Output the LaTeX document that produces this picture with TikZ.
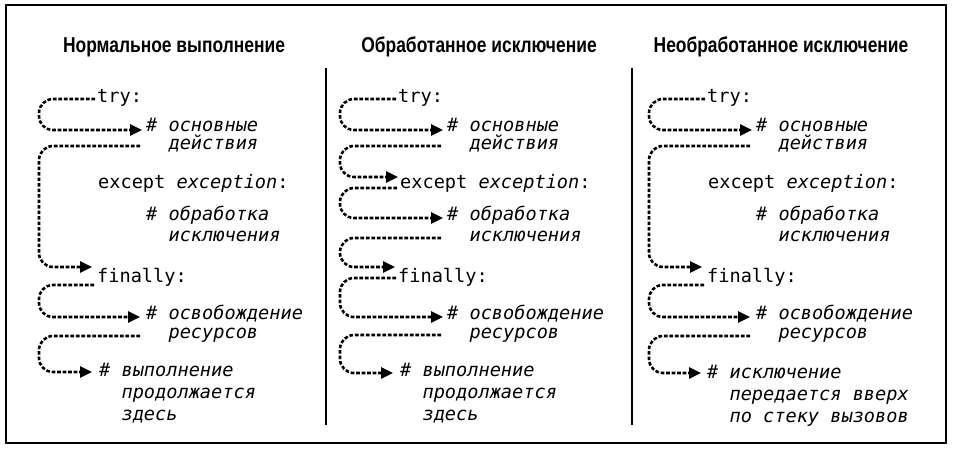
\documentclass[tikz,border=0pt]{standalone}
\usepackage{fontspec}
\usetikzlibrary{arrows.meta,calc}
\newfontfamily\codefont{DejaVu Sans Mono}
\newfontfamily\titlefam[FakeStretch=0.81]{Liberation Sans}
\newcommand\codesize{\codefont\fontsize{18.6}{20}\selectfont}
\newcommand\titlesize{\titlefam\bfseries\fontsize{21.5}{24}\selectfont}
\tikzset{
  code/.style={anchor=base west, inner sep=0pt, font=\codesize, text height=11pt, text depth=3pt},
  cmt/.style={code, font=\codesize\itshape},
  ttl/.style={anchor=base, inner sep=0pt, font=\titlesize},
  flow/.style={line width=2.6pt, dash pattern=on 3.6pt off 1.9pt, rounded corners=14pt,
    -{Triangle[length=12pt,width=11pt]}},
  frame/.style={line width=1.6pt},
  divider/.style={line width=2pt},
}
\begin{document}
\begin{tikzpicture}[x=1pt,y=-1pt]
\useasboundingbox (0,0) rectangle (956,454);
\draw[frame] (6,5) rectangle (946,443);
\coordinate (d1t) at (326,68); \coordinate (d1b) at (326,425);
\coordinate (d2t) at (632,68); \coordinate (d2b) at (632,425);
\draw[divider] (d1t) -- (d1b);
\draw[divider] (d2t) -- (d2b);
\node[ttl] (t1) at (174,53) {Нормальное выполнение};
\node[ttl] (t2) at (479,53) {Обработанное исключение};
\node[ttl] (t3) at (781,53) {Необработанное исключение};

% ---------- column 1 ----------
\begin{scope}
\coordinate (LA) at (39,0);
\node[code] (tryA) at (97,103) {try:};
\node[cmt] (osnA) at (146,132) {\# основные};
\node[cmt] (deiA) at (146,150) {\phantom{\#~}действия};
\node[code] (excA) at (98,189) {except \textit{exception}:};
\node[cmt] (obrA) at (146,221) {\# обработка};
\node[cmt] (iskA) at (146,242) {\phantom{\#~}исключения};
\node[code] (finA) at (97,283) {finally:};
\node[cmt] (osvA) at (146,320) {\# освобождение};
\node[cmt] (resA) at (146,338) {\phantom{\#~}ресурсов};
\node[cmt] (vypA) at (99,377) {\# выполнение};
\node[cmt] (proA) at (99,398) {\phantom{\#~}продолжается};
\node[cmt] (zdeA) at (99,420) {\phantom{\#~}здесь};
\coordinate (a1e) at ([xshift=-4pt,yshift=-2pt]osnA.west);
\draw[flow] ([xshift=-2pt]tryA.west) -| (LA |- a1e) -- (a1e);
\coordinate (a2e) at ([xshift=-5pt,yshift=12pt]finA.west);
\draw[flow] ([xshift=-6pt]deiA.west) -| (LA |- a2e) -- (a2e);
\coordinate (a3e) at ([xshift=-6pt,yshift=-1pt]osvA.west);
\draw[flow] ([xshift=-3pt,yshift=-6pt]finA.west) -| (LA |- a3e) -- (a3e);
\coordinate (a4e) at ([xshift=-7pt,yshift=1pt]vypA.west);
\draw[flow] ([xshift=-6pt,yshift=-2pt]resA.west) -| (LA |- a4e) -- (a4e);
\end{scope}

% ---------- column 2 ----------
\begin{scope}[xshift=301pt]
\coordinate (LB) at (39,0);
\node[code] (tryB) at (97,103) {try:};
\node[cmt] (osnB) at (146,132) {\# основные};
\node[cmt] (deiB) at (146,150) {\phantom{\#~}действия};
\node[code] (excB) at (99,189) {except \textit{exception}:};
\node[cmt] (obrB) at (146,221) {\# обработка};
\node[cmt] (iskB) at (146,242) {\phantom{\#~}исключения};
\node[code] (finB) at (97,283) {finally:};
\node[cmt] (osvB) at (146,320) {\# освобождение};
\node[cmt] (resB) at (146,338) {\phantom{\#~}ресурсов};
\node[cmt] (vypB) at (99,377) {\# выполнение};
\node[cmt] (proB) at (99,398) {\phantom{\#~}продолжается};
\node[cmt] (zdeB) at (99,420) {\phantom{\#~}здесь};
\coordinate (b1e) at ([xshift=-4pt,yshift=-2pt]osnB.west);
\draw[flow] ([xshift=-2pt]tryB.west) -| (LB |- b1e) -- (b1e);
\coordinate (b2e) at ([xshift=-2pt,yshift=8pt]excB.west);
\draw[flow] ([xshift=-6pt]deiB.west) -| (LB |- b2e) -- (b2e);
\coordinate (b3e) at ([xshift=-4pt,yshift=-1pt]obrB.west);
\draw[flow] ([xshift=-3pt,yshift=-3pt]excB.west) -| (LB |- b3e) -- (b3e);
\coordinate (b4e) at ([xshift=-3pt,yshift=12pt]finB.west);
\draw[flow] ([xshift=-6pt]iskB.west) -| (LB |- b4e) -- (b4e);
\coordinate (b5e) at ([xshift=-4pt,yshift=-1pt]osvB.west);
\draw[flow] ([xshift=-2pt,yshift=1pt]finB.west) -| (LB |- b5e) -- (b5e);
\coordinate (b6e) at ([xshift=-7pt]vypB.west);
\draw[flow] ([xshift=-6pt,yshift=-1pt]resB.west) -| (LB |- b6e) -- (b6e);
\end{scope}

% ---------- column 3 ----------
\begin{scope}[xshift=610pt]
\coordinate (LC) at (39,0);
\node[code] (tryC) at (97,103) {try:};
\node[cmt] (osnC) at (146,132) {\# основные};
\node[cmt] (deiC) at (146,150) {\phantom{\#~}действия};
\node[code] (excC) at (98,189) {except \textit{exception}:};
\node[cmt] (obrC) at (146,221) {\# обработка};
\node[cmt] (iskC) at (146,242) {\phantom{\#~}исключения};
\node[code] (finC) at (97,283) {finally:};
\node[cmt] (osvC) at (146,320) {\# освобождение};
\node[cmt] (resC) at (146,338) {\phantom{\#~}ресурсов};
\node[cmt] (iskmC) at (97,378) {\# исключение};
\node[cmt] (perC) at (97,400) {\phantom{\#~}передается вверх};
\node[cmt] (stkC) at (97,422) {\phantom{\#~}по стеку вызовов};
\coordinate (c1e) at ([xshift=-4pt,yshift=-2pt]osnC.west);
\draw[flow] ([xshift=-2pt]tryC.west) -| (LC |- c1e) -- (c1e);
\coordinate (c2e) at ([xshift=-5pt,yshift=12pt]finC.west);
\draw[flow] ([xshift=-6pt]deiC.west) -| (LC |- c2e) -- (c2e);
\coordinate (c3e) at ([xshift=-6pt,yshift=-1pt]osvC.west);
\draw[flow] ([xshift=-3pt,yshift=-6pt]finC.west) -| (LC |- c3e) -- (c3e);
\coordinate (c4e) at ([xshift=-6pt,yshift=1pt]iskmC.west);
\draw[flow] ([xshift=-6pt,yshift=-2pt]resC.west) -| (LC |- c4e) -- (c4e);
\end{scope}
\end{tikzpicture}
\end{document}
